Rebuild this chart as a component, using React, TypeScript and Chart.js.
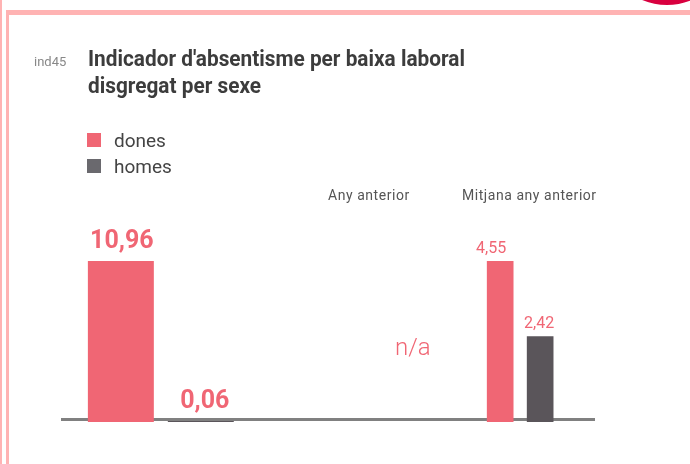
import React, { useEffect, useRef } from 'react';
import { Chart, registerables } from 'chart.js';

Chart.register(...registerables);

// ---- data ----
const categories = ['Any actual', 'Any anterior', 'Mitjana any anterior'];
const seriesNames = ['dones', 'homes'];
const dones: (number | null)[] = [10.96, null, 4.55];
const homes: (number | null)[] = [0.06, null, 2.42];
const headerLabels = ['Any anterior', 'Mitjana any anterior'];
const missingLabel = 'n/a';
const indicatorCode = 'ind45';
const titleLines = ["Indicador d'absentisme per baixa laboral", 'disgregat per sexe'];

// ---- style ----
const PINK = '#F06674';
const DARK = '#5A555A';
const LEGEND_DARK = '#6A696E';
const TEXT = '#444444';

const fmt = (v: number) => v.toFixed(2).replace('.', ',');

const only = (arr: (number | null)[], idx: number) => arr.map((v, i) => (i === idx ? v : null));

const valueLabels = {
  id: 'valueLabels',
  afterDatasetsDraw(chart: any) {
    const ctx = chart.ctx;
    chart.data.datasets.forEach((ds: any, i: number) => {
      const meta = chart.getDatasetMeta(i);
      meta.data.forEach((bar: any, j: number) => {
        const v = ds.data[j];
        if (v == null) return;
        const st = ds.labelStyle;
        ctx.save();
        ctx.font = st.font;
        ctx.fillStyle = st.color;
        ctx.textAlign = 'center';
        ctx.textBaseline = 'alphabetic';
        ctx.fillText(fmt(v), bar.x + (st.dx || 0), bar.y - st.gap);
        ctx.restore();
      });
    });
  },
};

const baseline = {
  id: 'baseline',
  beforeDatasetsDraw(chart: any) {
    const { ctx, chartArea } = chart;
    const y = chart.scales.yA.getPixelForValue(0) - 2.5;
    ctx.save();
    ctx.strokeStyle = '#808080';
    ctx.lineWidth = 3;
    ctx.beginPath();
    ctx.moveTo(chartArea.left - 10, y);
    ctx.lineTo(chartArea.right - 15, y);
    ctx.stroke();
    ctx.restore();
  },
};

function BarChart() {
  const ref = useRef<HTMLCanvasElement | null>(null);
  useEffect(() => {
    if (!ref.current) return;
    const bigLabel = { font: 'bold 25px Roboto', color: PINK, gap: 13, dx: 1 };
    const bigLabel2 = { font: 'bold 25px Roboto', color: PINK, gap: 13, dx: 4 };
    const smallLabel = { font: '16px Roboto', color: PINK, gap: 8, dx: -9 };
    const smallLabel2 = { font: '16px Roboto', color: PINK, gap: 8, dx: -1 };
    const chart = new Chart(ref.current, {
      type: 'bar',
      data: {
        labels: categories,
        datasets: [
          {
            label: seriesNames[0],
            data: only(dones, 0),
            yAxisID: 'yA',
            backgroundColor: PINK,
            categoryPercentage: 0.89,
            barPercentage: 0.825,
            labelStyle: bigLabel,
          } as any,
          {
            label: seriesNames[1],
            data: only(homes, 0),
            yAxisID: 'yA',
            backgroundColor: DARK,
            categoryPercentage: 0.89,
            barPercentage: 0.825,
            labelStyle: bigLabel2,
          } as any,
          {
            label: seriesNames[0],
            data: only(dones, 2),
            yAxisID: 'yB',
            backgroundColor: PINK,
            categoryPercentage: 0.445,
            barPercentage: 0.667,
            labelStyle: smallLabel,
          } as any,
          {
            label: seriesNames[1],
            data: only(homes, 2),
            yAxisID: 'yB',
            backgroundColor: DARK,
            categoryPercentage: 0.445,
            barPercentage: 0.667,
            labelStyle: smallLabel2,
          } as any,
        ],
      },
      options: {
        animation: false,
        responsive: false,
        devicePixelRatio: 1,
        skipNull: true,
        layout: { padding: { left: 71, right: 80, top: 261, bottom: 42 } },
        plugins: { legend: { display: false }, tooltip: { enabled: false }, title: { display: false } },
        scales: {
          x: { type: 'category', display: false, offset: true, grid: { display: false } },
          yA: {
            type: 'linear',
            display: false,
            min: 0,
            max: Math.max(dones[0] ?? 0, homes[0] ?? 0),
          },
          yB: {
            type: 'linear',
            display: false,
            min: 0,
            max: Math.max(dones[2] ?? 0, homes[2] ?? 0),
          },
        },
      } as any,
      plugins: [baseline, valueLabels],
    });
    return () => chart.destroy();
  }, []);
  return (
    <canvas
      ref={ref}
      width={690}
      height={464}
      style={{ position: 'absolute', left: 0, top: 0, width: 690, height: 464 }}
    />
  );
}

const abs = (left: number, top: number, extra: React.CSSProperties = {}): React.CSSProperties => ({
  position: 'absolute',
  left,
  top,
  whiteSpace: 'nowrap',
  fontFamily: 'Roboto, sans-serif',
  ...extra,
});

export default function App() {
  return (
    <div
      style={{
        position: 'fixed',
        left: 0,
        top: 0,
        width: 690,
        height: 464,
        background: '#ffffff',
        overflow: 'hidden',
      }}
    >
      {/* decorative frame */}
      <div style={{ position: 'absolute', left: 0, top: 0, width: 2, height: 464, background: '#FFB3B3' }} />
      <div style={{ position: 'absolute', left: 6, top: 10, width: 3, height: 454, background: '#FFB3B3' }} />
      <div style={{ position: 'absolute', left: 6, top: 10, width: 684, height: 5, background: '#FFB3B3' }} />
      <div
        style={{
          position: 'absolute',
          left: 667 - 65,
          top: -60 - 65,
          width: 130,
          height: 130,
          borderRadius: '50%',
          background: '#D8003F',
        }}
      />

      <BarChart />

      {/* title */}
      <div style={abs(34, 66 - 6.5 - 0.3415 * 13, { fontSize: 13, lineHeight: '13px', color: '#888888' })}>
        {indicatorCode}
      </div>
      {titleLines.map((t, i) => (
        <div
          key={t}
          style={abs(88, 66 + i * 27 - 11.25 - 0.3415 * 22.5, {
            fontSize: 22.5,
            lineHeight: '22.5px',
            fontWeight: 700,
            color: '#3C3C3C',
            transform: 'scaleX(0.925)',
            transformOrigin: 'left center',
          })}
        >
          {t}
        </div>
      ))}

      {/* legend */}
      {seriesNames.map((name, i) => (
        <React.Fragment key={name}>
          <div
            style={{
              position: 'absolute',
              left: 87,
              top: 133 + i * 26,
              width: 14,
              height: 14,
              background: i === 0 ? PINK : LEGEND_DARK,
            }}
          />
          <div style={abs(114, 146.7 + i * 26 - 9.5 - 0.3415 * 19, { fontSize: 19, lineHeight: '19px', color: TEXT })}>
            {name}
          </div>
        </React.Fragment>
      ))}

      {/* group headers */}
      <div
        style={abs(328, 200 - 7 - 0.3415 * 14, {
          fontSize: 14,
          lineHeight: '14px',
          color: '#555555',
          letterSpacing: '0.55px',
        })}
      >
        {headerLabels[0]}
      </div>
      <div
        style={abs(462, 200 - 7 - 0.3415 * 14, {
          fontSize: 14,
          lineHeight: '14px',
          color: '#555555',
          letterSpacing: '0.55px',
        })}
      >
        {headerLabels[1]}
      </div>

      {/* missing value */}
      <div style={abs(395, 355 - 12 - 0.3415 * 24, { fontSize: 24, lineHeight: '24px', fontWeight: 300, color: PINK })}>
        {missingLabel}
      </div>
    </div>
  );
}
